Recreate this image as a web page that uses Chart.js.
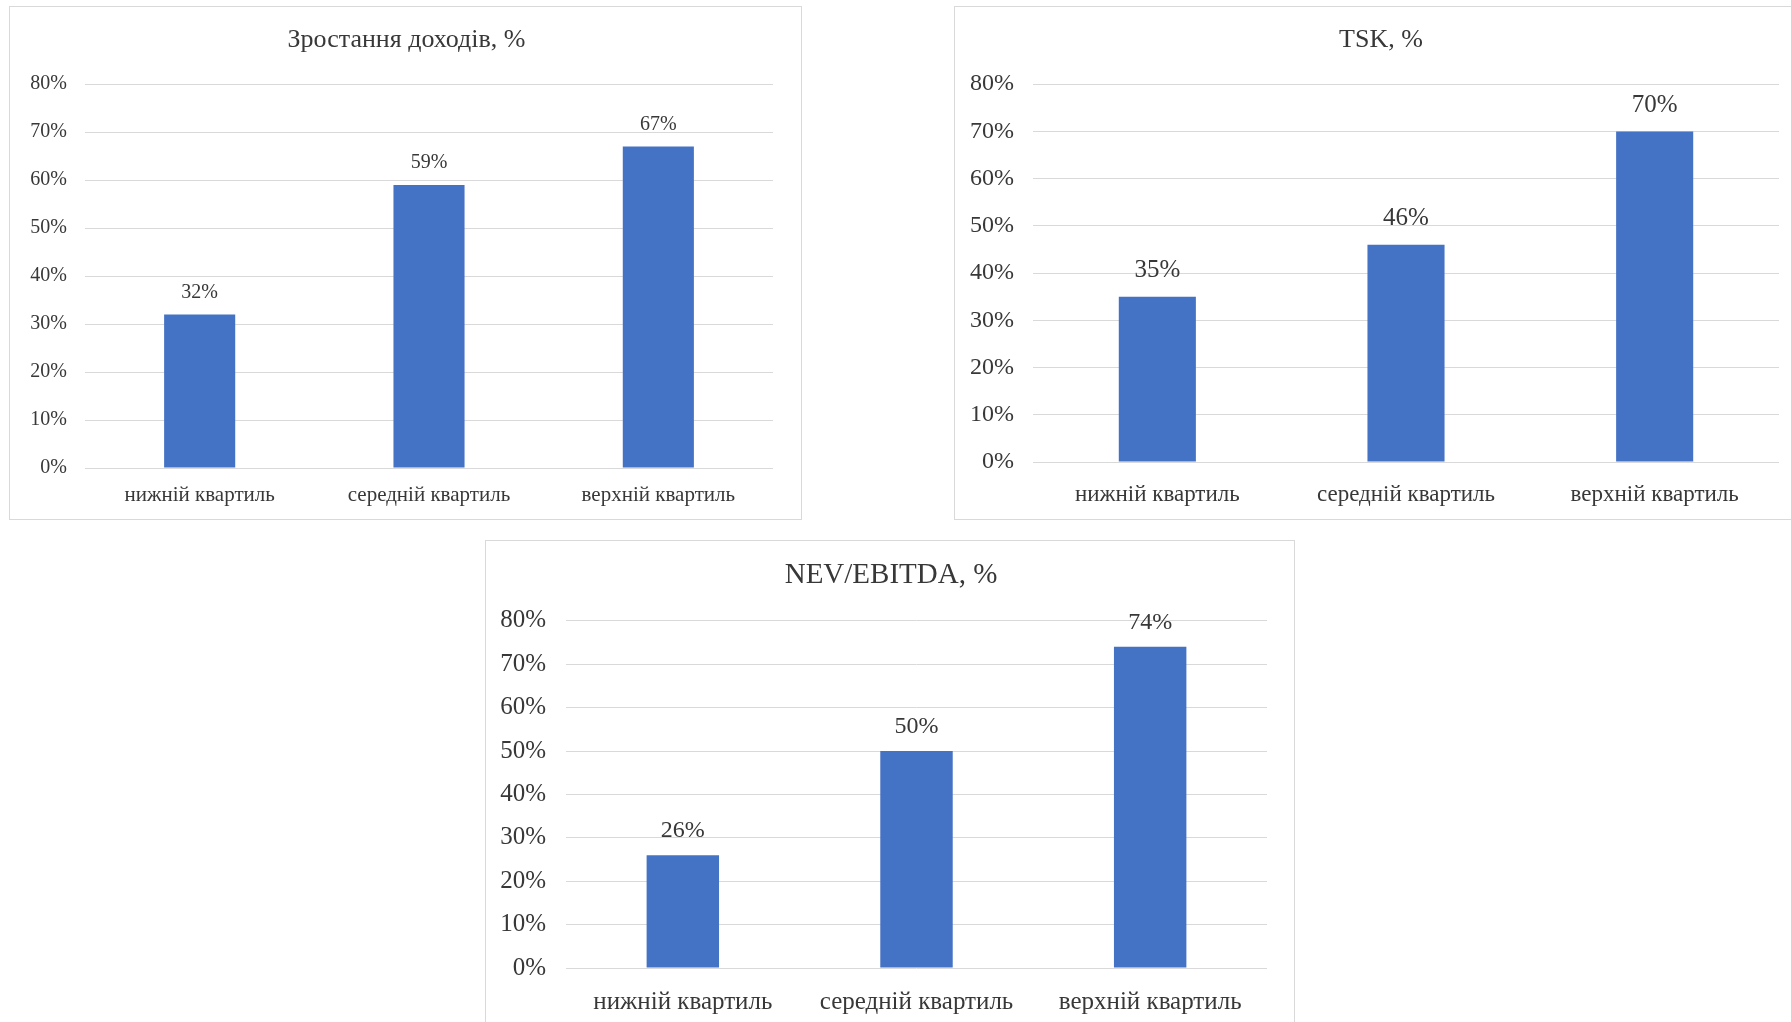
<!DOCTYPE html>
<html>
<head>
<meta charset="utf-8">
<script src="https://cdn.jsdelivr.net/npm/chart.js@4"></script>
<style>
  html, body { margin: 0; padding: 0; background: #fff; overflow: hidden; }
  body { width: 1791px; height: 1022px; position: relative; }
  .panel { position: absolute; border: 1px solid #d9d9d9; box-sizing: border-box; background: #fff; }
  .panel canvas { position: absolute; left: 0; top: 0; }
</style>
</head>
<body>
<div class="panel" id="p1" style="left:9px; top:6px; width:793px; height:514px;"><canvas id="c1"></canvas></div>
<div class="panel" id="p2" style="left:954px; top:6px; width:852px; height:514px;"><canvas id="c2"></canvas></div>
<div class="panel" id="p3" style="left:485px; top:540px; width:810px; height:500px;"><canvas id="c3"></canvas></div>
<script>
const categories = ['нижній квартиль', 'середній квартиль', 'верхній квартиль']
const incomeGrowth = [32, 59, 67]
const tskValues = [35, 46, 70]
const nevEbitda = [26, 50, 74]
const yMax = 80
const yStep = 10

const FONT = "'Liberation Serif', 'Times New Roman', serif"
const TEXT = '#383838'
const BAR = '#4472C4'
const GRID = '#d9d9d9'

const valueLabels = {
  id: 'valueLabels',
  afterDatasetsDraw (chart, args, opts) {
    const ctx = chart.ctx
    const meta = chart.getDatasetMeta(0)
    ctx.save()
    ctx.font = `${opts.size}px ${FONT}`
    ctx.fillStyle = TEXT
    ctx.textAlign = 'center'
    ctx.textBaseline = 'middle'
    meta.data.forEach((bar, i) => {
      ctx.fillText(chart.data.datasets[0].data[i] + '%', bar.x, bar.y - opts.offset)
    })
    ctx.restore()
  }
}

function makeChart (canvasId, title, values, s) {
  const el = document.getElementById(canvasId)
  const box = el.parentElement
  el.width = box.clientWidth + 2
  el.height = box.clientHeight + 2
  return new Chart(el, {
    type: 'bar',
    data: {
      labels: categories,
      datasets: [{
        data: values,
        backgroundColor: BAR,
        barPercentage: 0.31,
        categoryPercentage: 1
      }]
    },
    options: {
      responsive: false,
      animation: false,
      layout: { padding: 0 },
      plugins: {
        legend: { display: false },
        tooltip: { enabled: false },
        title: {
          display: true,
          text: title,
          color: TEXT,
          font: { family: FONT, size: s.title, weight: 'normal', lineHeight: 1.2 },
          padding: { top: s.titleTop, bottom: s.titleBottom }
        },
        valueLabels: { size: s.label, offset: s.labelOffset }
      },
      scales: {
        x: {
          grid: { display: false, drawTicks: false },
          border: { display: false },
          ticks: { color: TEXT, font: { family: FONT, size: s.xTick }, padding: s.xPad, maxRotation: 0 },
          afterFit: scale => { scale.height = s.xHeight }
        },
        y: {
          min: 0,
          max: yMax,
          grid: { color: GRID, lineWidth: 1, drawTicks: false },
          border: { display: false },
          ticks: {
            stepSize: yStep,
            color: TEXT,
            font: { family: FONT, size: s.yTick },
            padding: s.yPad,
            callback: v => v + '%'
          },
          afterFit: scale => { scale.width = s.left }
        },
        // empty right-hand spacer so the plot ends where the reference does
        // while the title stays centred on the whole panel
        spacer: {
          type: 'linear',
          position: 'right',
          grid: { display: false, drawTicks: false },
          border: { display: false },
          ticks: { display: false },
          afterFit: scale => { scale.width = s.right }
        }
      }
    },
    plugins: [valueLabels]
  })
}

makeChart('c1', 'Зростання доходів, %', incomeGrowth, {
  left: 75, right: 30, xHeight: 53,
  title: 26, titleTop: 18, titleBottom: 28,
  xTick: 21, xPad: 15, yTick: 20, yPad: 18,
  label: 20, labelOffset: 22
})

makeChart('c2', 'TSK, %', tskValues, {
  left: 78, right: 28, xHeight: 59,
  title: 26, titleTop: 18, titleBottom: 28,
  xTick: 23, xPad: 19, yTick: 24, yPad: 19,
  label: 25, labelOffset: 26
})

makeChart('c3', 'NEV/EBITDA, %', nevEbitda, {
  left: 80, right: 29, xHeight: 73,
  title: 29, titleTop: 17, titleBottom: 28,
  xTick: 25, xPad: 19, yTick: 25, yPad: 20,
  label: 24, labelOffset: 24
})
</script>
</body>
</html>
